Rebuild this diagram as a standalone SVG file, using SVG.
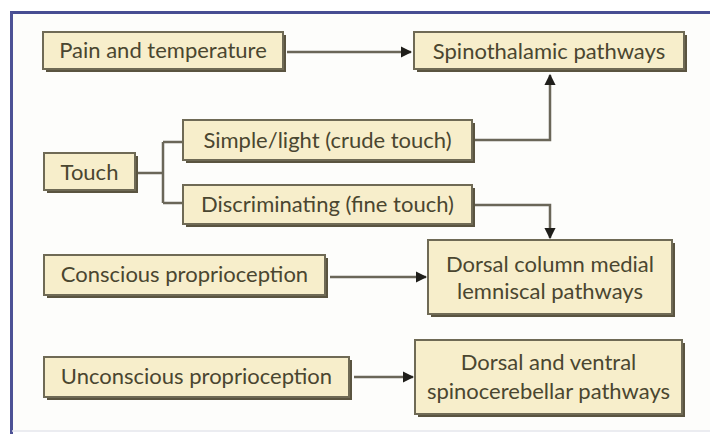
<svg xmlns="http://www.w3.org/2000/svg" width="710" height="434" viewBox="0 0 710 434">
<defs>
<style>
.bx{fill:#f7eecb;stroke:#6f6a55;stroke-width:2}
.sh{fill:#5a5440}
.t{font-family:Lato,"Open Sans",sans-serif;font-size:22px;fill:#4a4630;text-anchor:middle}
.c{fill:none;stroke:#6a6658;stroke-width:2.5}
</style>
<marker id="ah" viewBox="0 0 10 10" refX="9" refY="5" markerWidth="4.5" markerHeight="4.5" orient="auto" markerUnits="strokeWidth">
<path d="M0,0 L10,5 L0,10 Z" fill="#1f1e1a"/>
</marker>
</defs>
<rect x="0" y="0" width="710" height="434" fill="#ffffff"/>
<rect x="12" y="13" width="698" height="418" fill="#fdfdfb"/>
<line x1="10" y1="12.5" x2="710" y2="12.5" stroke="#474d92" stroke-width="3"/>
<line x1="11.5" y1="12" x2="11.5" y2="434" stroke="#4d5296" stroke-width="3"/>
<line x1="12" y1="431" x2="710" y2="431" stroke="#e4e6ec" stroke-width="1.5"/>

<g id="connectors">
<path class="c" d="M287,52 H411" marker-end="url(#ah)"/>
<path class="c" d="M475,140 H550 V75" marker-end="url(#ah)"/>
<path class="c" d="M475,205 H550 V238" marker-end="url(#ah)"/>
<path class="c" d="M330,277 H426" marker-end="url(#ah)"/>
<path class="c" d="M354,377 H413" marker-end="url(#ah)"/>
<path class="c" d="M138,173 H163 M163,142 V203 M163,142 H183 M163,203 H183"/>
</g>

<g id="pain">
<rect class="sh" x="46" y="35" width="240" height="37"/>
<rect class="bx" x="43" y="32" width="240" height="37"/>
<text class="t" x="163" y="58">Pain and temperature</text>
</g>
<g id="spinothalamic">
<rect class="sh" x="417" y="35" width="270" height="37"/>
<rect class="bx" x="414" y="32" width="270" height="37"/>
<text class="t" x="549" y="59">Spinothalamic pathways</text>
</g>
<g id="touch">
<rect class="sh" x="47" y="156" width="91" height="37"/>
<rect class="bx" x="44" y="153" width="91" height="37"/>
<text class="t" x="89.5" y="180">Touch</text>
</g>
<g id="simple">
<rect class="sh" x="186" y="123" width="289" height="40"/>
<rect class="bx" x="183" y="120" width="289" height="40"/>
<text class="t" x="327.5" y="148">Simple/light (crude touch)</text>
</g>
<g id="discriminating">
<rect class="sh" x="186" y="188" width="289" height="39"/>
<rect class="bx" x="183" y="185" width="289" height="39"/>
<text class="t" x="327.5" y="212">Discriminating (fine touch)</text>
</g>
<g id="conscious">
<rect class="sh" x="47" y="258" width="281" height="40"/>
<rect class="bx" x="44" y="255" width="281" height="40"/>
<text class="t" x="184.5" y="282">Conscious proprioception</text>
</g>
<g id="unconscious">
<rect class="sh" x="47" y="360" width="305" height="40"/>
<rect class="bx" x="44" y="357" width="305" height="40"/>
<text class="t" x="196.5" y="384">Unconscious proprioception</text>
</g>
<g id="dorsalcolumn">
<rect class="sh" x="431" y="243" width="244" height="74"/>
<rect class="bx" x="428" y="240" width="244" height="74"/>
<text class="t" x="550" y="272">Dorsal column medial</text>
<text class="t" x="550" y="299">lemniscal pathways</text>
</g>
<g id="dorsalventral">
<rect class="sh" x="418" y="343" width="267" height="74"/>
<rect class="bx" x="415" y="340" width="267" height="74"/>
<text class="t" x="548.5" y="370">Dorsal and ventral</text>
<text class="t" x="548.5" y="399">spinocerebellar pathways</text>
</g>
</svg>
